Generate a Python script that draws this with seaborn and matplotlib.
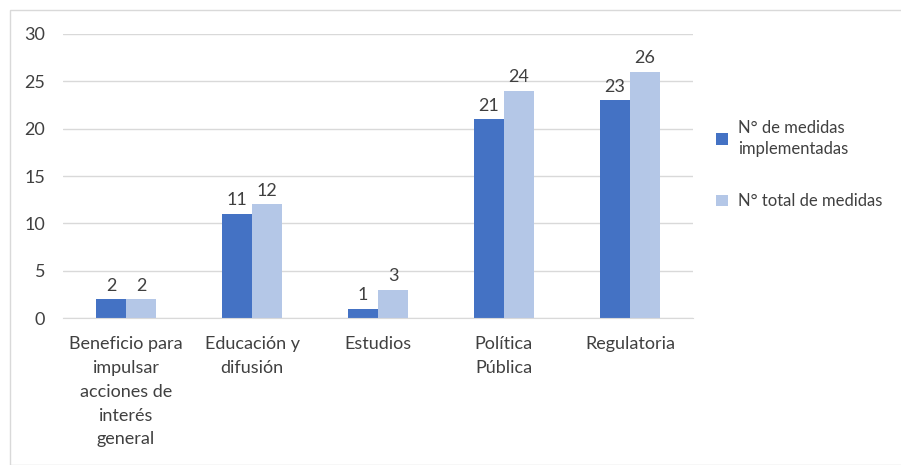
import pandas as pd
import matplotlib.pyplot as plt
import seaborn as sns
from matplotlib.patches import Rectangle

categorias = ['Beneficio para\nimpulsar\nacciones de\ninterés\ngeneral',
              'Educación y\ndifusión', 'Estudios', 'Política\nPública', 'Regulatoria']
implementadas = [2, 11, 1, 21, 23]
totales = [2, 12, 3, 24, 26]
series = ['N° de medidas\nimplementadas', 'N° total de medidas']
colores = ['#4472C4', '#B4C7E7']

df = pd.DataFrame({
    'categoria': categorias * 2,
    'valor': implementadas + totales,
    'serie': [series[0]] * len(categorias) + [series[1]] * len(categorias),
})

sns.set_style('white')
plt.rcParams['font.family'] = ['Lato', 'DejaVu Sans']
plt.rcParams['text.color'] = '#404040'

fig = plt.figure(figsize=(9.01, 4.65), dpi=100)
ax = fig.add_axes([0.070, 0.316, 0.699, 0.611])

sns.barplot(data=df, x='categoria', y='valor', hue='serie', palette=colores,
            width=0.476, gap=0, ax=ax, saturation=1, linewidth=0)

for c in ax.containers:
    ax.bar_label(c, fontsize=13, padding=4, color='#404040')

ax.set_ylim(0, 30)
ax.set_yticks(range(0, 31, 5))
ax.yaxis.grid(True, color='#d9d9d9', linewidth=1)
ax.set_axisbelow(True)
for s in ['top', 'right', 'left']:
    ax.spines[s].set_visible(False)
ax.spines['bottom'].set_color('#d9d9d9')
ax.tick_params(axis='both', length=0, labelsize=13, colors='#404040')
ax.tick_params(axis='x', pad=13)
ax.tick_params(axis='y', pad=13)
for t in ax.get_xticklabels():
    t.set_linespacing(1.6)
ax.set_xlabel('')
ax.set_ylabel('')

leg = ax.legend(loc='upper left', bbox_to_anchor=(0.778, 0.775), bbox_transform=fig.transFigure,
                frameon=False, fontsize=12, labelspacing=2.2, handlelength=0.7,
                handleheight=0.7, handletextpad=0.6, labelcolor='#404040')
for t in leg.get_texts():
    t.set_linespacing(1.4)

fig.patches.append(Rectangle((10 / 901, 0), 1, 1 - 10 / 465, transform=fig.transFigure,
                             fill=False, edgecolor='#d9d9d9', linewidth=1))

fig.savefig('out.png', dpi=100)
